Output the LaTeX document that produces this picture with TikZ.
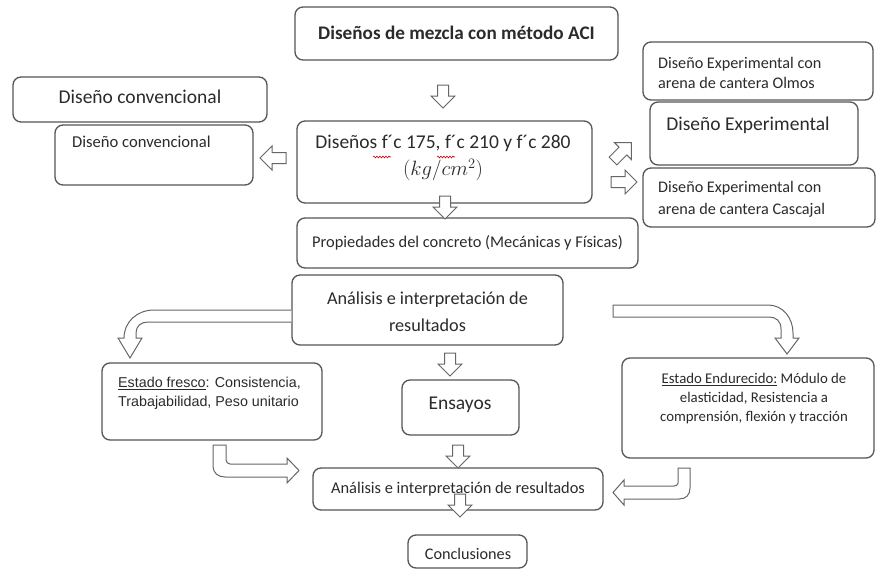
\documentclass[tikz,border=0pt]{standalone}
\usepackage{fontspec}
\setmainfont{Carlito}
\newfontfamily\arialf{Liberation Sans}
\usetikzlibrary{calc,decorations.pathmorphing}
\definecolor{edge}{HTML}{555555}
\definecolor{ink}{HTML}{2B2B2B}
\tikzset{
  box/.style={draw=edge, line width=1.3pt, rounded corners=8pt, fill=white, inner sep=0pt},
  blk/.style={draw=edge!90, line width=1pt, fill=white, line join=miter},
  txt/.style={text=ink, inner sep=0pt},
  wave/.style={draw=red!80!black, line width=0.6pt, decorate, decoration={snake, amplitude=0.9pt, segment length=3pt}},
  darrow/.pic={\draw[blk] (-5.5,0) -- (-5.5,11) -- (-12,11) -- (0,23) -- (12,11) -- (5.5,11) -- (5.5,0) -- cycle;},
  rarrow/.pic={\draw[blk] (0,-5.5) -- (14,-5.5) -- (14,-12) -- (26,0) -- (14,12) -- (14,5.5) -- (0,5.5) -- cycle;}
}
\begin{document}
\begin{tikzpicture}[x=1pt,y=-1pt]
\useasboundingbox[fill=white] (0,0) rectangle (876,570);

% boxes
\node[box, minimum width=323pt, minimum height=53pt] (top) at (456.5,33.5) {};
\node[box, minimum width=295pt, minimum height=82pt] (main) at (444.5,162) {};
\node[box, minimum width=341pt, minimum height=50pt] (prop) at (467.5,243) {};
\node[box, minimum width=254pt, minimum height=45pt] (conv1) at (140,99.5) {};
\node[box, minimum width=198pt, minimum height=60pt] (conv2) at (154,155) {};
\node[box, minimum width=230pt, minimum height=58pt] (olmos) at (758,71) {};
\node[box, minimum width=208pt, minimum height=63pt] (exper) at (754,133.5) {};
\node[box, minimum width=232pt, minimum height=59pt] (casc) at (759,197.5) {};
\node[box, minimum width=271pt, minimum height=70pt] (anal) at (427.5,310) {};
\node[box, minimum width=220pt, minimum height=77pt] (fresco) at (212,401.5) {};
\node[box, minimum width=252pt, minimum height=100pt] (endu) at (748,408) {};
\node[box, minimum width=117pt, minimum height=55pt] (ensayos) at (460.5,407.5) {};
\node[box, minimum width=290pt, minimum height=42pt] (anal2) at (458,489) {};
\node[box, minimum width=119pt, minimum height=33pt] (concl) at (467.5,551.5) {};

% texts
\node[txt, font=\bfseries\fontsize{19.2}{22}\selectfont] (ttop) at (456.5,33) {Diseños de mezcla con método ACI};
\node[txt, font=\fontsize{19.5}{27}\selectfont, align=center] (tmain) at (443,158)
  {Diseños f´c 175, f´c 210 y f´c 280\\ $(kg/cm^2)$};
\node[txt, font=\fontsize{16.4}{19}\selectfont] (tprop) at (467.5,243) {Propiedades del concreto (Mecánicas y Físicas)};
\node[txt, font=\fontsize{19.5}{22}\selectfont] (tconv1) at (140,97) {Diseño convencional};
\node[txt, font=\fontsize{16.6}{19}\selectfont, anchor=west] (tconv2) at (72,142) {Diseño convencional};
\node[txt, font=\fontsize{16.2}{20}\selectfont, align=left, anchor=west] (tolmos) at (658,73) {Diseño Experimental con\\arena de cantera Olmos};
\node[txt, font=\fontsize{19.5}{22}\selectfont] (texper) at (748,125) {Diseño Experimental};
\node[txt, font=\fontsize{16.2}{22}\selectfont, align=left, anchor=west] (tcasc) at (658,199) {Diseño Experimental con\\arena de cantera Cascajal};
\node[txt, font=\fontsize{18.2}{27}\selectfont, align=center] (tanal) at (427.5,311.5) {Análisis e interpretación de\\resultados};
\node[txt, font=\arialf\fontsize{14.3}{19}\selectfont, align=left, anchor=west] (tfresco) at (118,393)
  {\underline{Estado fresco}: Consistencia,\\Trabajabilidad, Peso unitario};
\node[txt, font=\fontsize{14.8}{19}\selectfont, align=center] (tendu) at (754,399)
  {\underline{Estado Endurecido:} Módulo de\\elasticidad, Resistencia a\\comprensión, flexión y tracción};
\node[txt, font=\fontsize{19.5}{22}\selectfont] (tensayos) at (460,405) {Ensayos};
\node[txt, font=\fontsize{16.4}{19}\selectfont] (tanal2) at (458,489) {Análisis e interpretación de resultados};
\node[txt, font=\fontsize{16.2}{19}\selectfont] (tconcl) at (468,554) {Conclusiones};

% spell-check squiggles under the first two "f´c"
\coordinate (wa) at (373,157);
\coordinate (wb) at (391,157);
\coordinate (wc) at (437,157);
\coordinate (wd) at (455,157);
\draw[wave] (wa) -- (wb);
\draw[wave] (wc) -- (wd);

% straight block arrows
\pic at (443,85) {darrow};
\pic at (445,196) {darrow};
\pic at (450,353) {darrow};
\pic at (458,445) {darrow};
\pic at (460,494) {darrow};
\pic[rotate=180] at (286,158) {rarrow};
\pic[rotate=45] at (613,161) {rarrow};
\pic at (611,182) {rarrow};

% bent block arrows
\draw[blk] (anal.west |- 0,310) -- (154,310) .. controls (137,310) and (124,322) .. (124,338)
  -- (118,338) -- (130,358) -- (142,338) -- (136,338) -- (136,333)
  .. controls (136,326) and (141,322) .. (148,322) -- (anal.west |- 0,322);
\draw[blk] (613,305) -- (768,305) .. controls (783,305) and (793,318) .. (793,333)
  -- (793,338) -- (799,338) -- (787,354) -- (775,338) -- (781,338) -- (781,329)
  .. controls (781,321) and (776,317) .. (769,317) -- (613,317) -- cycle;
\draw[blk] (213,445) -- (213,466) .. controls (213,473) and (218,477) .. (225,477)
  -- (287,477) -- (287,483) -- (299,470.5) -- (287,458) -- (287,464) -- (230,464)
  .. controls (228,464) and (226,462) .. (226,460) -- (226,445) -- cycle;
\draw[blk] (690,468) -- (690,488) .. controls (690,495) and (686,499) .. (679,499)
  -- (624,499) -- (624,505) -- (613,492.5) -- (624,480) -- (624,486) -- (674,486)
  .. controls (676,486) and (678,485) .. (678,483) -- (678,468) -- cycle;
\end{tikzpicture}
\end{document}
